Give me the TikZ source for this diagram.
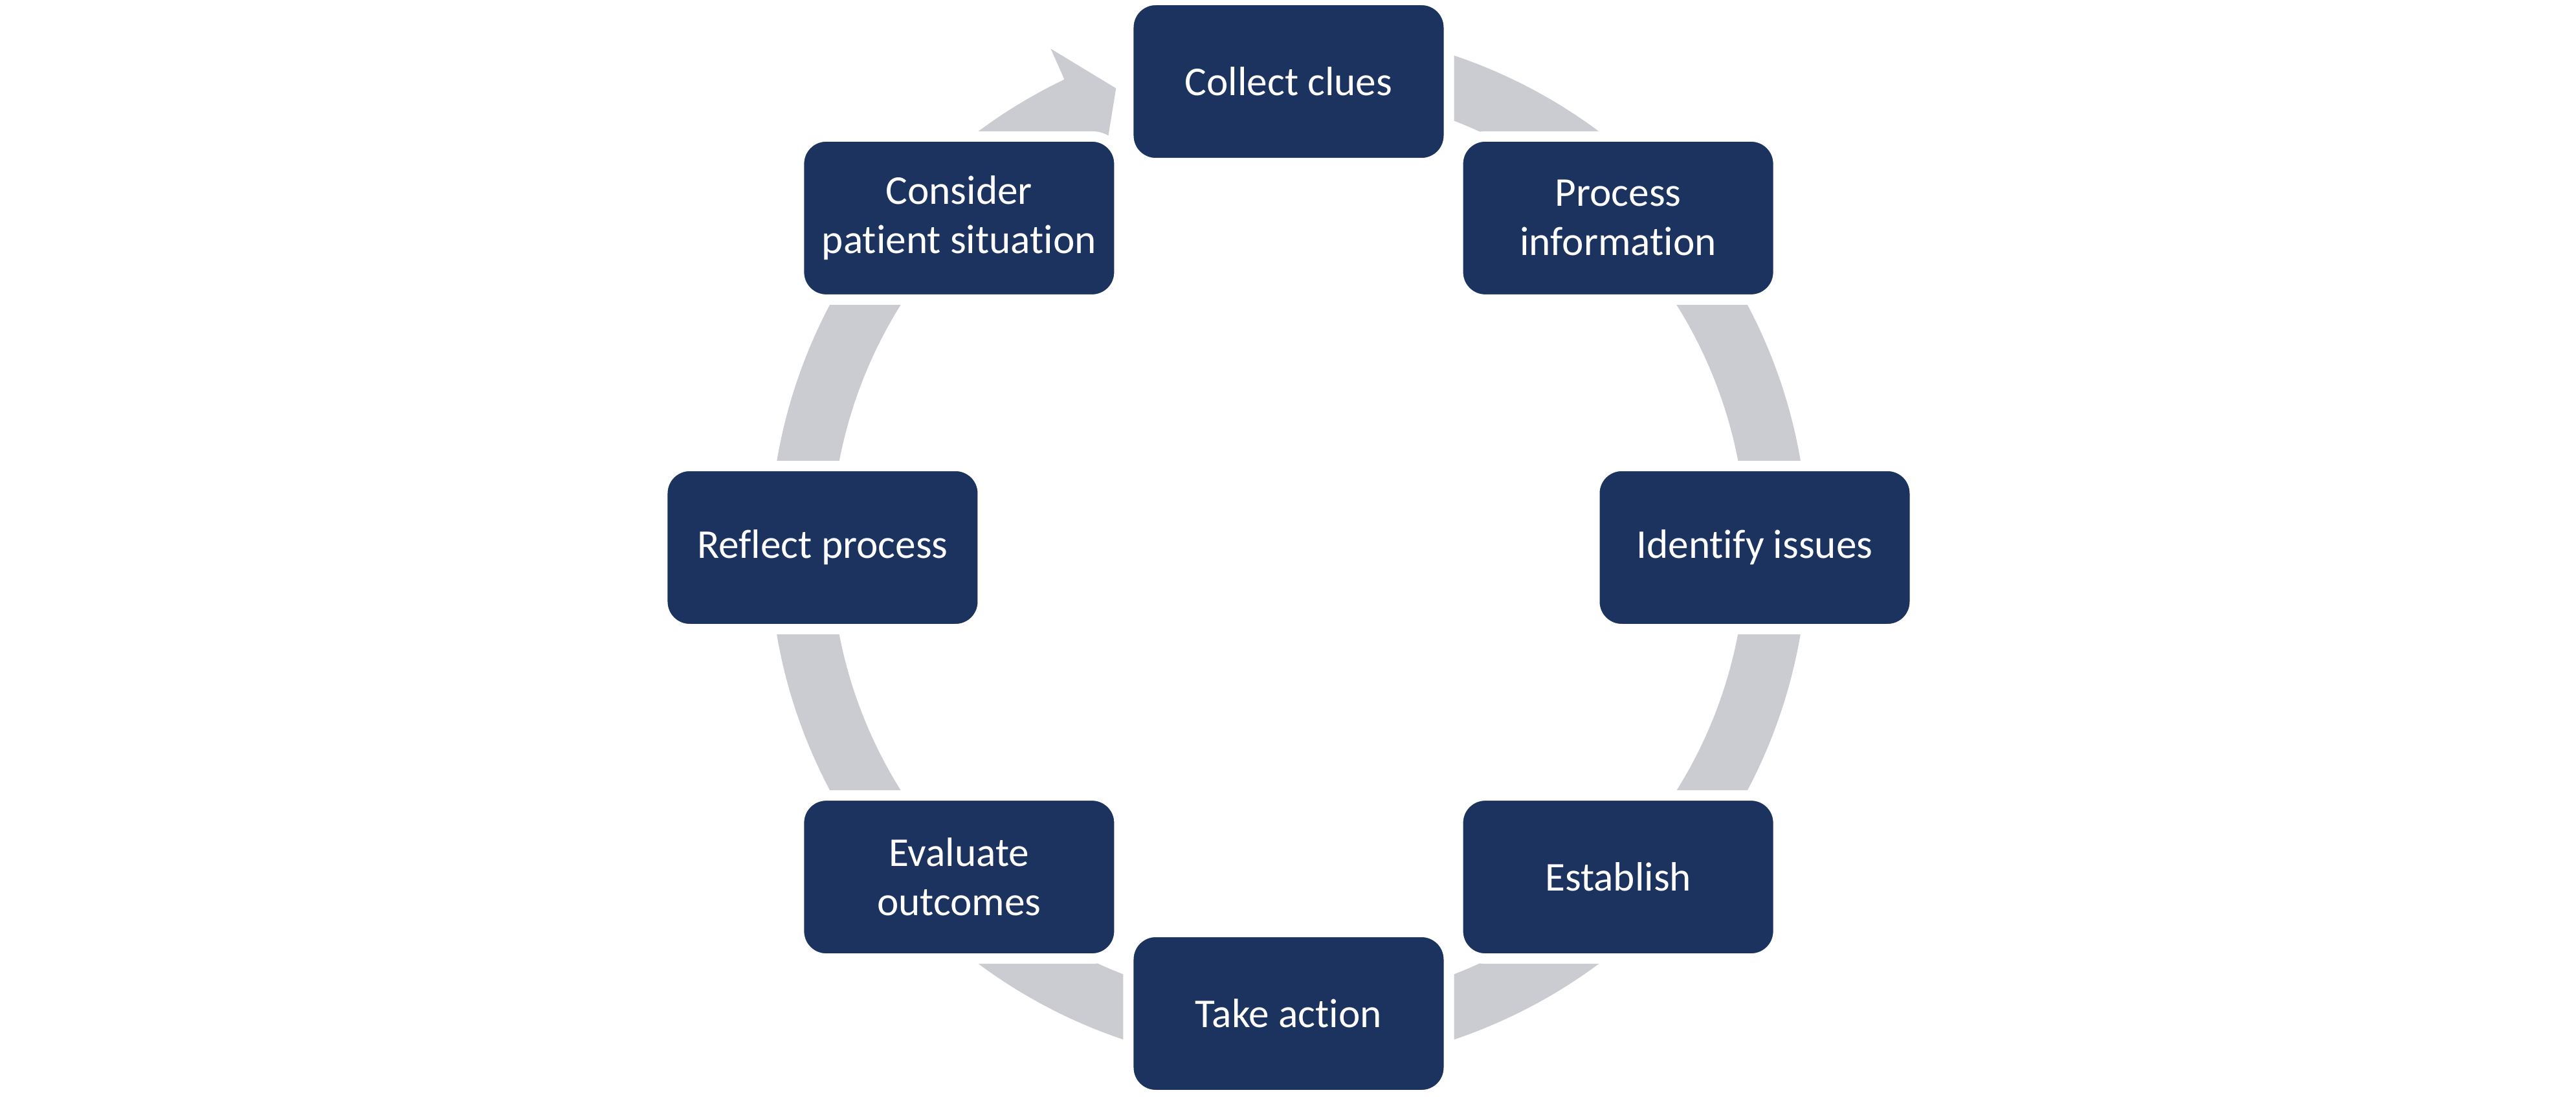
\documentclass[tikz,border=0pt]{standalone}
\usepackage{fontspec}
\setmainfont{Carlito}[Ligatures=NoCommon]
\usetikzlibrary{calc}
\usetikzlibrary{positioning}
\definecolor{DarkNavy}{HTML}{1C3360}
\definecolor{RingGray}{HTML}{CBCCD1}

\begin{document}
\begin{tikzpicture}[
  stage/.style={draw=white, line width=0.16cm, fill=DarkNavy, rounded corners=0.42cm,
    minimum width=4.95cm, minimum height=2.52cm, align=center, text=white,
    font=\fontsize{18}{21.6}\selectfont}]
  \useasboundingbox (-19.91,-8.48) rectangle (19.89,8.46);
  \coordinate (Origin) at (0,0);

  % grey ring with its head just before the first stage
  \fill[RingGray] (115.6:8.02) arc[start angle=115.6, end angle=440, radius=8.02]
    -- (440:7.07) arc[start angle=440, end angle=115.6, radius=7.07]
    -- (115.5:6.62) -- (110.6:7.58) -- (115.5:8.54) -- cycle;

  \foreach \ang/\nm/\txt in {90/collect/{Collect clues},
      45/process/{Process\\information},
      0/identify/{Identify issues},
      -45/establish/{Establish},
      -90/action/{Take action},
      -135/evaluate/{Evaluate\\outcomes},
      180/reflect/{Reflect process},
      135/consider/{Consider\\patient situation}}{%
    \node[stage] (\nm) at (\ang:7.2) {\txt};
  }
\end{tikzpicture}
\end{document}
